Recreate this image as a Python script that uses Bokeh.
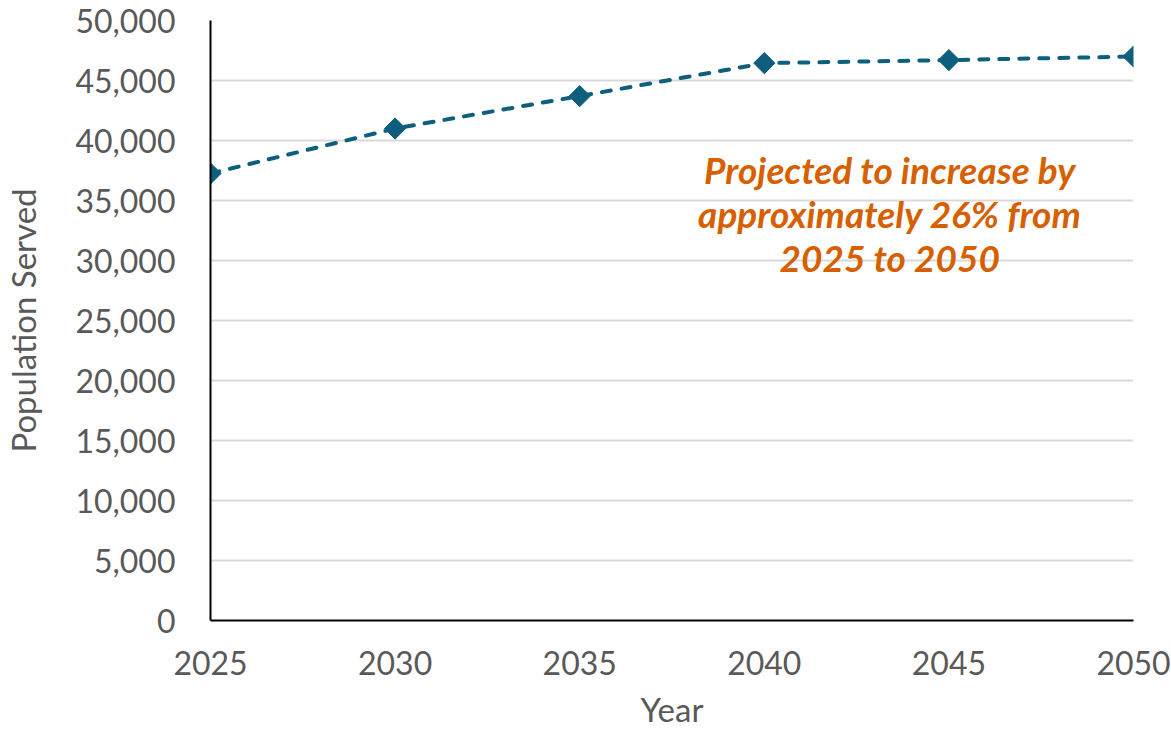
import math
from bokeh.plotting import figure
from bokeh.models import Range1d, FixedTicker, NumeralTickFormatter, ColumnDataSource
from bokeh.core.properties import value
from bokeh.embed import file_html
from bokeh.resources import INLINE

years = [2025, 2030, 2035, 2040, 2045, 2050]
population = [37250, 41000, 43700, 46450, 46700, 47000]
y_ticks = [0, 5000, 10000, 15000, 20000, 25000, 30000, 35000, 40000, 45000, 50000]
note_lines = ["Projected to increase by", "approximately 26% from", "2025 to 2050"]
note_x = [2043.4, 2043.4, 2043.4]
note_y = [37600, 33930, 30270]

FONT = "Lato"
GRAY = "#595959"
LINE = "#0E5F7E"
ORANGE = "#D65F00"

p = figure(width=1171, height=731, output_backend="svg", toolbar_location=None,
           x_range=Range1d(2025, 2050), y_range=Range1d(0, 50000),
           min_border_left=210, min_border_right=38, min_border_top=20, min_border_bottom=111)
p.outline_line_color = None
p.background_fill_color = "white"
p.border_fill_color = "white"

p.xgrid.grid_line_color = None
p.ygrid.grid_line_color = "#D9D9D9"
p.ygrid.grid_line_width = 2
p.yaxis.ticker = FixedTicker(ticks=y_ticks)
p.xaxis.ticker = FixedTicker(ticks=years)
p.yaxis.formatter = NumeralTickFormatter(format="0,0")

for ax in (p.xaxis[0], p.yaxis[0]):
    ax.axis_line_color = "black"
    ax.axis_line_width = 2
    ax.major_tick_line_color = None
    ax.minor_tick_line_color = None
    ax.major_tick_out = 0
    ax.major_tick_in = 0
    ax.major_label_text_font = FONT
    ax.major_label_text_font_size = "32px"
    ax.major_label_text_color = GRAY
    ax.axis_label_text_font = FONT
    ax.axis_label_text_font_size = "33px"
    ax.axis_label_text_color = GRAY
    ax.axis_label_text_font_style = "normal"

p.xaxis.axis_label = "Year"
p.yaxis.axis_label = "Population Served"
p.xaxis.major_label_standoff = 30
p.yaxis.major_label_standoff = 35
p.xaxis.axis_label_standoff = 11
p.yaxis.axis_label_standoff = 29

src = ColumnDataSource(dict(x=years, y=population))
p.line("x", "y", source=src, line_color=LINE, line_width=4, line_dash="9 11",
       line_cap="round")
p.scatter("x", "y", source=src, marker="square", size=15, angle=math.pi / 4,
          fill_color=LINE, line_color=LINE)

p.text(x=note_x, y=note_y, text=note_lines, text_font=value(FONT),
       text_font_size="37px", text_font_style="bold italic", text_color=ORANGE,
       text_align="center", text_baseline="alphabetic")

open("out.html", "w").write(file_html(p, INLINE))
